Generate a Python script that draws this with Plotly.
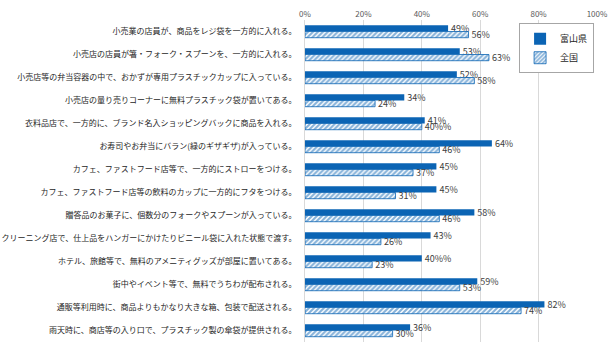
import plotly.graph_objects as go

categories = [
    "小売業の店員が、商品をレジ袋を一方的に入れる。",
    "小売店の店員が箸・フォーク・スプーンを、一方的に入れる。",
    "小売店等の弁当容器の中で、おかずが専用プラスチックカップに入っている。",
    "小売店の量り売りコーナーに無料プラスチック袋が置いてある。",
    "衣料品店で、一方的に、ブランド名入ショッピングバックに商品を入れる。",
    "お寿司やお弁当にバラン(緑のギザギザ)が入っている。",
    "カフェ、ファストフード店等で、一方的にストローをつける。",
    "カフェ、ファストフード店等の飲料のカップに一方的にフタをつける。",
    "贈答品のお菓子に、個数分のフォークやスプーンが入っている。",
    "クリーニング店で、仕上品をハンガーにかけたりビニール袋に入れた状態で渡す。",
    "ホテル、旅館等で、無料のアメニティグッズが部屋に置いてある。",
    "街中やイベント等で、無料でうちわが配布される。",
    "通販等利用時に、商品よりもかなり大きな箱、包装で配送される。",
    "雨天時に、商店等の入り口で、プラスチック製の傘袋が提供される。",
]
toyama = [49, 53, 52, 34, 41, 64, 45, 45, 58, 43, 40, 59, 82, 36]
zenkoku = [56, 63, 58, 24, 40, 46, 37, 31, 46, 26, 23, 53, 74, 30]
tick_vals = [0, 20, 40, 60, 80, 100]
tick_text = ["0%", "20%", "40%", "60%", "80%", "100%"]

BLUE = "#0b64b4"
FONT = "Noto Sans CJK JP"

fig = go.Figure()
fig.add_trace(go.Bar(
    name="富山県", y=categories, x=toyama, orientation="h",
    marker=dict(color=BLUE, line=dict(width=0)),
    texttemplate="%{x}%", textposition="outside",
    textfont=dict(size=9, color="#404040", family=FONT),
    cliponaxis=False,
))
fig.add_trace(go.Bar(
    name="全国", y=categories, x=zenkoku, orientation="h",
    marker=dict(color="white", line=dict(color=BLUE, width=0.8),
                pattern=dict(shape="/", fgcolor=BLUE, bgcolor="white", size=3.5, solidity=0.6)),
    texttemplate="%{x}%", textposition="outside",
    textfont=dict(size=9, color="#404040", family=FONT),
    cliponaxis=False,
))

fig.update_layout(
    width=615, height=344,
    margin=dict(l=303, r=18, t=20, b=2),
    paper_bgcolor="white", plot_bgcolor="white",
    barmode="group", bargap=0.46, bargroupgap=0,
    font=dict(family=FONT, size=8, color="#333333"),
    uniformtext=dict(minsize=8, mode="show"),
    legend=dict(
        x=0.99, y=0.99, xanchor="right", yanchor="top",
        bordercolor="#a6a6a6", borderwidth=1, bgcolor="white",
        font=dict(size=9, color="#262626", family=FONT),
        itemwidth=30, tracegroupgap=0,
    ),
    showlegend=True,
)
fig.update_xaxes(
    range=[0, 100], side="top", tickvals=tick_vals, ticktext=tick_text,
    showgrid=True, gridcolor="#d9d9d9", gridwidth=1, zeroline=False,
    tickfont=dict(size=8, color="#595959", family=FONT),
    showline=False, ticks="",
)
fig.update_yaxes(
    autorange="reversed", showgrid=False, showline=True, linecolor="#d9d9d9",
    tickfont=dict(size=8, color="#262626", family=FONT),
    ticks="", ticklabelstandoff=6,
)

fig.write_html("out.html")
